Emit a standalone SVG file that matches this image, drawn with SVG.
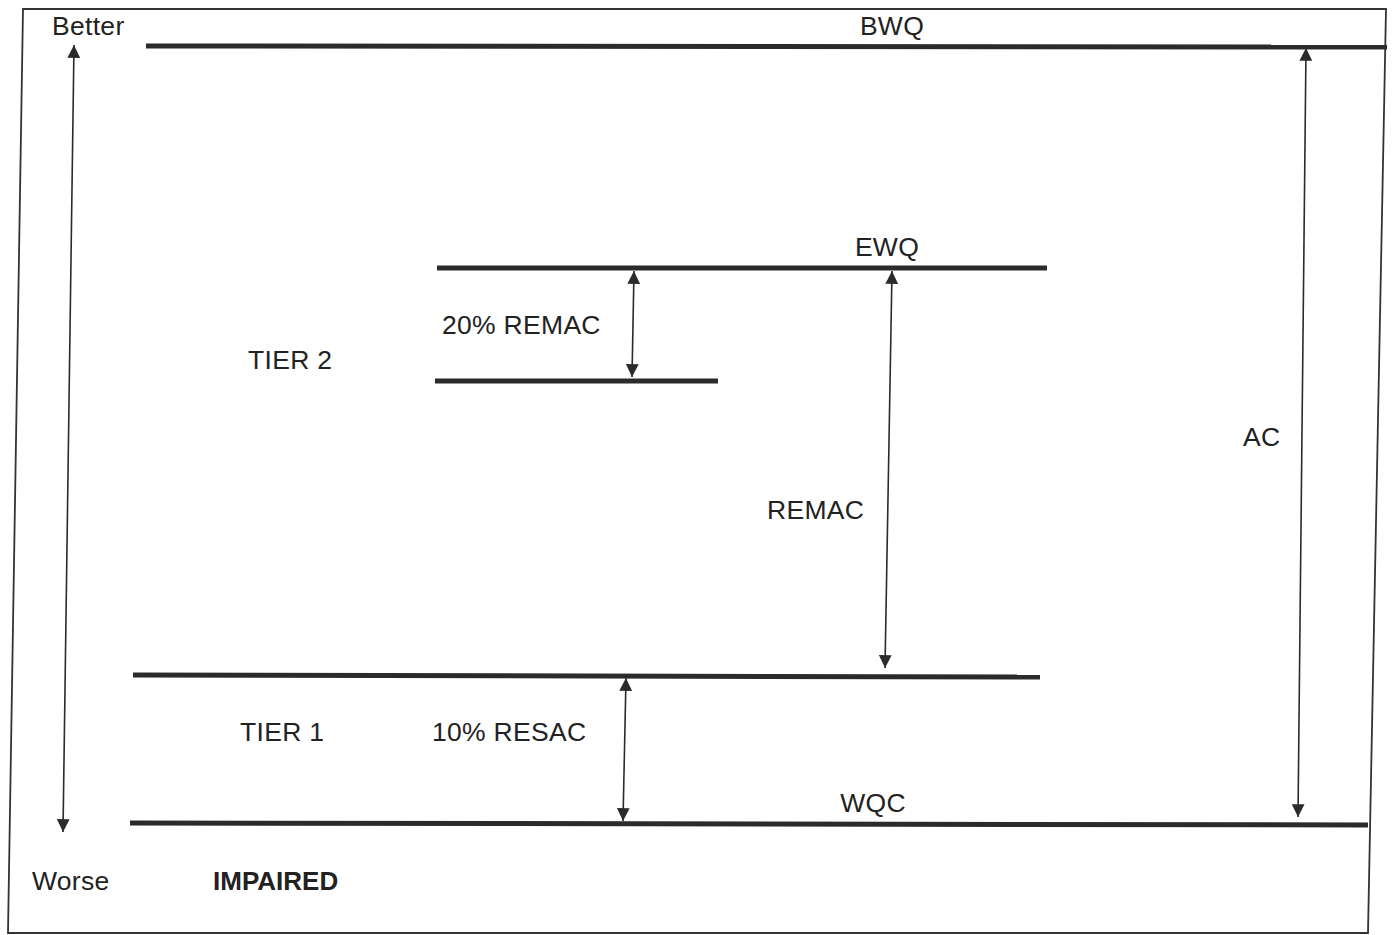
<svg xmlns="http://www.w3.org/2000/svg" width="1393" height="935" viewBox="0 0 1393 935">
<style>
.bar{stroke:#2b2b2b;stroke-width:5;stroke-linecap:butt}
.arr{stroke:#2b2b2b;stroke-width:1.6;fill:none;marker-start:url(#ah);marker-end:url(#ah)}
text{font-family:"Liberation Sans",Arial,sans-serif;font-size:26.5px;fill:#222;letter-spacing:0.3px}
.b{font-weight:bold;font-size:26px;letter-spacing:0}
</style>
<defs>
<marker id="ah" viewBox="0 0 10 10" refX="10" refY="5" markerWidth="8" markerHeight="8" markerUnits="userSpaceOnUse" orient="auto-start-reverse" style="overflow:visible">
<path d="M0,0 L10,5 L0,10 Z" fill="#2b2b2b" transform="scale(1.6) translate(-3.75,-1.9)"/>
</marker>
</defs>
<rect width="1393" height="935" fill="#fff"/>
<polygon id="frame" points="23,9 1386,9 1368,933 8,933" fill="none" stroke="#333" stroke-width="1.8"/>
<g id="levels">
<g id="bwq"><line class="bar" x1="146" y1="46" x2="1387" y2="47"/><text x="892" y="35" text-anchor="middle">BWQ</text></g>
<g id="ewq"><line class="bar" x1="437" y1="268" x2="1047" y2="268"/><text x="887" y="256" text-anchor="middle">EWQ</text></g>
<g id="remac20line"><line class="bar" x1="435" y1="381" x2="718" y2="381"/></g>
<g id="tier1line"><line class="bar" x1="133" y1="675" x2="1040" y2="677"/></g>
<g id="wqc"><line class="bar" x1="130" y1="823" x2="1368" y2="825"/><text x="873" y="812" text-anchor="middle">WQC</text></g>
</g>
<g id="connectors">
<line class="arr" x1="74" y1="45" x2="63" y2="832"/>
<line class="arr" x1="1306" y1="48" x2="1298" y2="817"/>
<line class="arr" x1="634" y1="271" x2="632" y2="377"/>
<line class="arr" x1="892" y1="271" x2="885" y2="668"/>
<line class="arr" x1="626" y1="678" x2="623" y2="821"/>
</g>
<g id="labels">
<text x="52" y="35">Better</text>
<text x="32" y="890">Worse</text>
<text x="442" y="334">20% REMAC</text>
<text x="248" y="369">TIER 2</text>
<text x="1243" y="446">AC</text>
<text x="767" y="519">REMAC</text>
<text x="240" y="741">TIER 1</text>
<text x="432" y="741">10% RESAC</text>
<text class="b" x="213" y="890">IMPAIRED</text>
</g>
</svg>
